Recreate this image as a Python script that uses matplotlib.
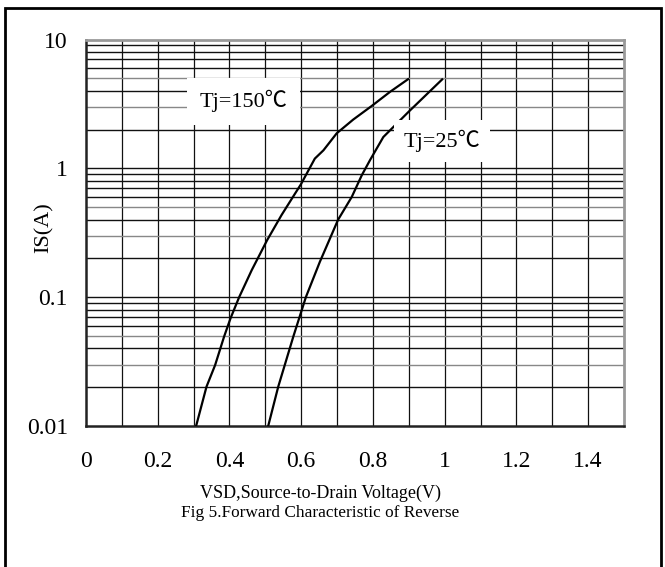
import matplotlib
matplotlib.use("Agg")
import matplotlib.pyplot as plt
from matplotlib.patches import Rectangle
import numpy as np

plt.rcParams['font.family'] = ['Liberation Serif', 'Noto Sans CJK SC', 'DejaVu Sans']

# Tj = 150 C curve
v150 = [0.307, 0.336, 0.360, 0.385, 0.403, 0.427, 0.462, 0.505, 0.545, 0.583, 0.599,
        0.638, 0.662, 0.699, 0.745, 0.796, 0.848, 0.898]
i150 = [0.01, 0.0202, 0.0297, 0.0494, 0.0686, 0.1, 0.162, 0.277, 0.433, 0.638, 0.75,
        1.19, 1.38, 1.87, 2.39, 3.04, 3.93, 4.92]
# Tj = 25 C curve
v25 = [0.508, 0.536, 0.578, 0.613, 0.652, 0.703, 0.741, 0.769, 0.792, 0.829, 0.899, 0.993]
i25 = [0.01, 0.0202, 0.0494, 0.1, 0.188, 0.40, 0.60, 0.885, 1.16, 1.75, 2.74, 4.9]

xticks = [0, 0.2, 0.4, 0.6, 0.8, 1.0, 1.2, 1.4]
xticklabels = ["0", "0.2", "0.4", "0.6", "0.8", "1", "1.2", "1.4"]
yticks = [0.01, 0.1, 1, 10]
yticklabels = ["0.01", "0.1", "1", "10"]

W, H = 665, 567
fig = plt.figure(figsize=(W / 100, H / 100), dpi=100)
ax = fig.add_axes([86 / W, 1 - 426 / H, (624 - 86) / W, (426 - 39.5) / H])

ax.set_yscale("log")
ax.set_xlim(0, 1.5)
ax.set_ylim(0.01, 10)

# grid
for xv in np.arange(0.1, 1.5, 0.1):
    ax.axvline(xv, color="#111111", lw=0.9, zorder=1)
for dec in [0.01, 0.1, 1]:
    for m in range(2, 10):
        c = "#888888" if m in (3, 5) else "#111111"
        ax.axhline(dec * m, color=c, lw=1.0, zorder=1)
for yv in [0.1, 1]:
    ax.axhline(yv, color="#111111", lw=1.0, zorder=1)

ax.plot(v150, i150, color="black", lw=1.6, zorder=3)
ax.plot(v25, i25, color="black", lw=1.6, zorder=3)

ax.text(0.44, 3.32, "Tj=150\u2103", fontsize=16, ha="center", va="center", zorder=4,
        bbox=dict(facecolor="white", edgecolor="none", pad=9))
ax.text(0.993, 1.63, "Tj=25\u2103", fontsize=16, ha="center", va="center", zorder=4,
        bbox=dict(facecolor="white", edgecolor="none", pad=7))

ax.set_xticks(xticks)
ax.set_xticklabels(xticklabels)
ax.set_yticks(yticks)
ax.set_yticklabels(yticklabels)
ax.minorticks_off()
ax.tick_params(length=0, labelsize=17, colors="black")
ax.tick_params(axis="x", pad=18)
ax.tick_params(axis="y", pad=13)

for s in ["left", "bottom"]:
    ax.spines[s].set_linewidth(1.8)
    ax.spines[s].set_color("#222222")
for s in ["top", "right"]:
    ax.spines[s].set_linewidth(2.0)
    ax.spines[s].set_color("#999999")

fig.text(44 / W, 1 - 228 / H, "IS(A)", rotation=90, fontsize=16, ha="center", va="center")
fig.text(321 / W, 1 - 493 / H, "VSD,Source-to-Drain Voltage(V)", fontsize=13, ha="center", va="center")
fig.text(320 / W, 1 - 513 / H, "Fig 5.Forward Characteristic of Reverse", fontsize=12.4, ha="center", va="center")

# outer frame
fig.patches.append(Rectangle((5 / W, -0.01), (661 - 5) / W, (1 - 8 / H) + 0.01,
                             transform=fig.transFigure, fill=False, edgecolor="black", lw=2))

fig.savefig("out.png", dpi=100)
